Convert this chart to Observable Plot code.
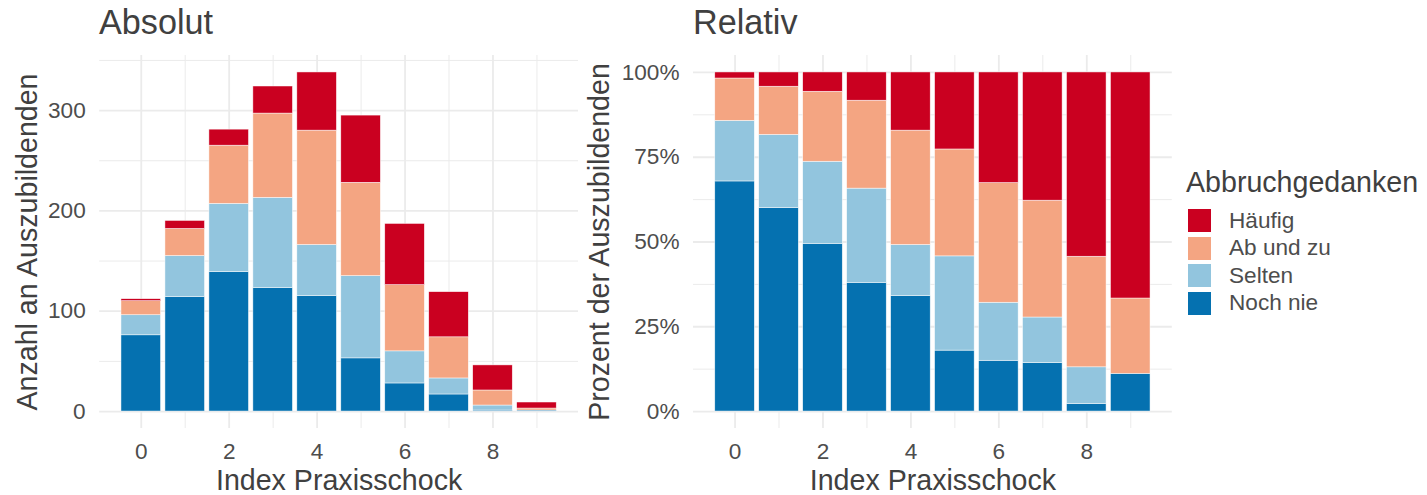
<!DOCTYPE html>
<html>
<head>
<meta charset="utf-8">
<script src="https://cdn.jsdelivr.net/npm/d3@7"></script>
<script src="https://cdn.jsdelivr.net/npm/@observablehq/plot@0.6"></script>
<style>
  body { margin: 0; background: #fff; }
  #root { position: relative; width: 1427px; height: 495px; overflow: hidden; font-family: "Liberation Sans", Arial, sans-serif; }
  .panel { position: absolute; top: 0; }
  .title { position: absolute; top: 5px; font-size: 34.2px; line-height: 1; color: #404040; white-space: nowrap; }
  .legend-title { position: absolute; left: 1186px; top: 167.5px; font-size: 28.6px; line-height: 1; color: #404040; white-space: nowrap; }
  .legend-item { position: absolute; left: 1188px; height: 23px; display: flex; align-items: center; white-space: nowrap; }
  .legend-key { width: 23px; height: 23px; margin-right: 18px; box-sizing: border-box; }
  .legend-label { font-size: 22.6px; line-height: 1; color: #4d4d4d; }
</style>
</head>
<body>
<div id="root"></div>
<script>
// ---------- data ----------
const index = [0, 1, 2, 3, 4, 5, 6, 7, 8, 9];
const categories = ["Noch nie", "Selten", "Ab und zu", "Häufig"]; // bottom → top
const colors = ["#0571B0", "#92C5DE", "#F4A582", "#CA0020"];
const legendOrder = ["Häufig", "Ab und zu", "Selten", "Noch nie"];

const nochNie = [76, 114, 139, 123, 115, 53, 28, 17, 1, 1];
const selten  = [20, 41, 68, 90, 51, 82, 32, 16, 5, 0];
const abUndZu = [14, 27, 58, 84, 114, 93, 66, 41, 15, 2];
const haeufig = [2, 8, 16, 27, 58, 67, 61, 45, 25, 6];

const xTicks = [0, 2, 4, 6, 8];
const absTicks = [0, 100, 200, 300];
const absMinor = [50, 150, 250, 350];
const relTicks = [0, 0.25, 0.5, 0.75, 1];
const relMinor = [0.125, 0.375, 0.625, 0.875];

const titles = ["Absolut", "Relativ"];
const yLabels = ["Anzahl an Auszubildenden", "Prozent der Auszubildenden"];
const xLabel = "Index Praxisschock";
const legendTitle = "Abbruchgedanken";

// ---------- table ----------
const series = [nochNie, selten, abUndZu, haeufig];
const rows = [];
index.forEach((x, i) => categories.forEach((c, j) => rows.push({index: x, category: c, count: series[j][i]})));

const FONT = '"Liberation Sans", Arial, sans-serif';
const GRID = "#EBEBEB";
const TICK = "#4d4d4d";
const TITLE = "#404040";
const maxTotal = d3.max(index, (d, i) => nochNie[i] + selten[i] + abUndZu[i] + haeufig[i]);

function panel({width, marginLeft, marginRight, yDomain, yTicks, yMinor, yFormat, yLabel, yLabelDx, normalize}) {
  const barOpts = {x: "index", y: "count", fill: "category", stroke: "white", strokeWidth: 0.6, strokeOpacity: 0.8};
  return Plot.plot({
    width, height: 495,
    marginLeft, marginRight, marginTop: 55, marginBottom: 67,
    style: {background: "transparent", overflow: "visible", fontFamily: FONT, fontSize: "22.6px"},
    x: {type: "band", domain: index, paddingInner: 0.1, paddingOuter: 0.495, align: 0.5, round: false},
    y: {domain: yDomain},
    color: {domain: categories, range: colors},
    marks: [
      Plot.gridY(yMinor, {stroke: GRID, strokeOpacity: 1, strokeWidth: 1}),
      Plot.gridY(yTicks, {stroke: GRID, strokeOpacity: 1, strokeWidth: 1.8}),
      Plot.gridX(index.filter(d => d % 2 === 1), {stroke: GRID, strokeOpacity: 1, strokeWidth: 1}),
      Plot.gridX(xTicks, {stroke: GRID, strokeOpacity: 1, strokeWidth: 1.8}),
      normalize
        ? Plot.barY(rows, Plot.stackY({offset: "normalize"}, barOpts))
        : Plot.barY(rows, barOpts),
      Plot.axisY(yTicks, {tickSize: 0, tickPadding: 14, tickFormat: yFormat, fill: TICK, fontSize: 22.6, label: null}),
      Plot.axisX(xTicks, {tickSize: 0, tickPadding: 14, fill: TICK, fontSize: 22.6, label: null}),
      Plot.text([yLabel], {text: d => d, frameAnchor: "left", rotate: -90, dx: yLabelDx, textAnchor: "middle", lineAnchor: "middle", fontSize: 28.6, fill: TITLE}),
      Plot.text([xLabel], {text: d => d, frameAnchor: "bottom", dy: 52, textAnchor: "middle", lineAnchor: "middle", fontSize: 28.6, fill: TITLE})
    ]
  });
}

const root = document.getElementById("root");

const leftWrap = document.createElement("div");
leftWrap.className = "panel"; leftWrap.style.left = "0px";
leftWrap.appendChild(panel({
  width: 600, marginLeft: 99.2, marginRight: 22,
  yDomain: [-0.05 * maxTotal, 1.05 * maxTotal], yTicks: absTicks, yMinor: absMinor,
  yFormat: d3.format("d"), yLabel: yLabels[0], yLabelDx: -72, normalize: false
}));
root.appendChild(leftWrap);

const rightWrap = document.createElement("div");
rightWrap.className = "panel"; rightWrap.style.left = "560px";
rightWrap.appendChild(panel({
  width: 640, marginLeft: 133, marginRight: 28.2,
  yDomain: [-0.05, 1.05], yTicks: relTicks, yMinor: relMinor,
  yFormat: d3.format(".0%"), yLabel: yLabels[1], yLabelDx: -94, normalize: true
}));
root.appendChild(rightWrap);

// titles
[[titles[0], 99], [titles[1], 693]].forEach(([t, x]) => {
  const el = document.createElement("div");
  el.className = "title"; el.textContent = t; el.style.left = x + "px";
  root.appendChild(el);
});

// legend
const lt = document.createElement("div");
lt.className = "legend-title"; lt.textContent = legendTitle;
root.appendChild(lt);
legendOrder.forEach((c, i) => {
  const item = document.createElement("div");
  item.className = "legend-item";
  item.style.top = (209.3 + i * 27.5) + "px";
  const key = document.createElement("div");
  key.className = "legend-key";
  key.style.background = colors[categories.indexOf(c)];
  const lab = document.createElement("span");
  lab.className = "legend-label"; lab.textContent = c;
  item.appendChild(key); item.appendChild(lab);
  root.appendChild(item);
});
</script>
</body>
</html>
